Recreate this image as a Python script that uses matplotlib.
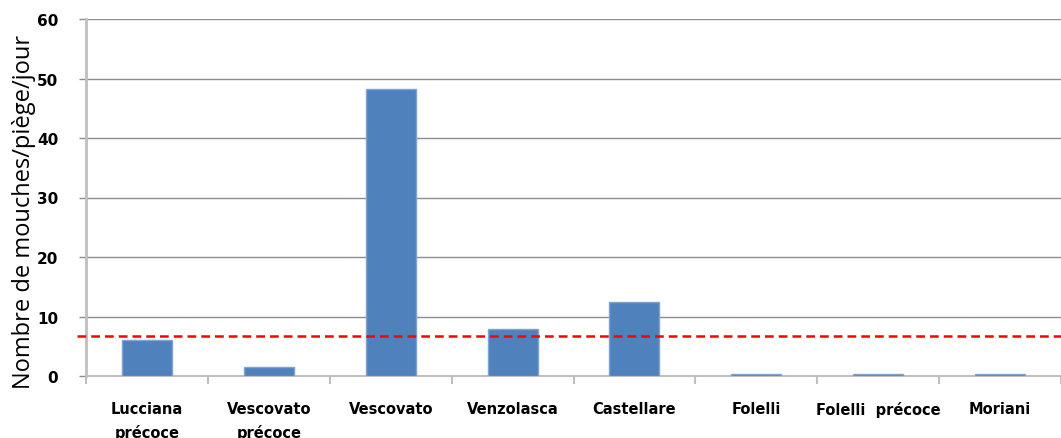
import matplotlib
matplotlib.use("Agg")
import matplotlib.pyplot as plt
import numpy as np

categories = ["Lucciana\nprécoce", "Vescovato\nprécoce", "Vescovato", "Venzolasca",
              "Castellare", "Folelli", "Folelli  précoce", "Moriani"]
values = [6.1, 1.5, 48.2, 7.9, 12.4, 0.4, 0.4, 0.4]
threshold = 6.7
yticks = [0, 10, 20, 30, 40, 50, 60]

fig = plt.figure(figsize=(10.61, 4.39), dpi=100)
ax = fig.add_axes([86/1061, 1-377/439, 1-86/1061, (377-20)/439])

x = np.arange(len(categories))
ax.bar(x, values, width=0.41, color="#4F81BD", edgecolor="#7FA3D3", linewidth=1, zorder=3)

ax.set_ylim(0, 60)
ax.set_xlim(-0.5, 7.41)
ax.set_yticks(yticks)
ax.set_yticklabels([str(t) for t in yticks], fontsize=11, fontweight="bold", family="DejaVu Sans")
ax.yaxis.grid(True, color="#8C8C8C", linewidth=1, zorder=0)
ax.tick_params(axis="y", length=5, color="#8C8C8C", width=1, pad=15)

ax.set_xticks(x)
ax.set_xticklabels(categories, fontsize=10.5, fontweight="bold", family="DejaVu Sans",
                   linespacing=1.6, va="top")
ax.tick_params(axis="x", which="major", length=0, pad=18)
ax.set_xticks(np.arange(-0.5, 8, 1), minor=True)
ax.tick_params(axis="x", which="minor", length=6, color="#BFBFBF", width=1.5)

for s in ["top", "right"]:
    ax.spines[s].set_visible(False)
ax.spines["left"].set_color("#BFBFBF")
ax.spines["left"].set_linewidth(2)
ax.spines["bottom"].set_color("#BFBFBF")
ax.spines["bottom"].set_linewidth(1.5)

ax.plot([-0.573, 7.6], [threshold, threshold], color="#FF0000", linestyle=(0, (3.5, 2)),
        linewidth=1.8, clip_on=False, zorder=4)

ax.set_ylabel("Nombre de mouches/piège/jour", fontsize=17, family="Open Sans")
ax.yaxis.set_label_coords(-0.051, 0.462)

fig.savefig("out.png", dpi=100)
